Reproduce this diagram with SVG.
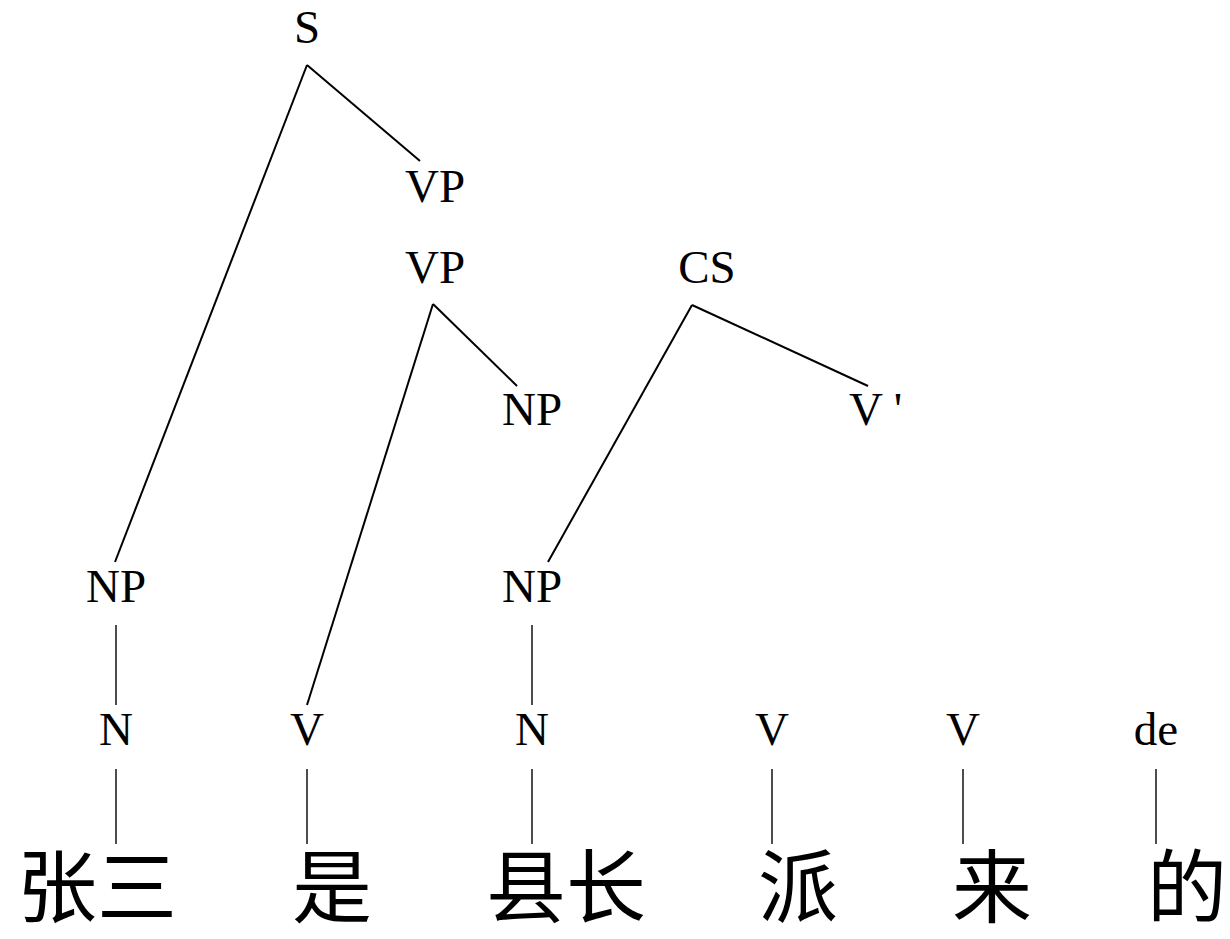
<svg xmlns="http://www.w3.org/2000/svg" width="1230" height="939" viewBox="0 0 1230 939">
<style>
.lbl{font-family:"Liberation Serif","Times New Roman",serif;font-size:47px;fill:#000;text-anchor:middle}
.zh{font-family:"Noto Sans CJK SC",sans-serif;font-size:80px;fill:#000;text-anchor:middle}
.e{stroke:#000;stroke-width:2;fill:none}
.v{stroke:#000;stroke-width:1.4;fill:none}
</style>
<rect width="1230" height="939" fill="#fff"/>
<g id="connectors">
<line class="e" x1="307" y1="65" x2="115" y2="562"/>
<line class="e" x1="307" y1="65" x2="420" y2="161"/>
<line class="e" x1="433" y1="304" x2="307" y2="705"/>
<line class="e" x1="433" y1="304" x2="517" y2="386"/>
<line class="e" x1="692" y1="305" x2="548" y2="562"/>
<line class="e" x1="692" y1="305" x2="868" y2="386"/>
<line class="v" x1="116" y1="625" x2="116" y2="705"/>
<line class="v" x1="532" y1="625" x2="532" y2="705"/>
<line class="v" x1="116" y1="769" x2="116" y2="844"/>
<line class="v" x1="307" y1="769" x2="307" y2="844"/>
<line class="v" x1="532" y1="769" x2="532" y2="844"/>
<line class="v" x1="772" y1="769" x2="772" y2="844"/>
<line class="v" x1="963" y1="769" x2="963" y2="844"/>
<line class="v" x1="1156" y1="769" x2="1156" y2="844"/>
</g>
<g id="n-S"><text class="lbl" x="307" y="43">S</text></g>
<g id="n-VP1"><text class="lbl" x="435" y="202">VP</text></g>
<g id="n-VP2"><text class="lbl" x="435" y="283">VP</text></g>
<g id="n-CS"><text class="lbl" x="707" y="283">CS</text></g>
<g id="n-NP3"><text class="lbl" x="532" y="425">NP</text></g>
<g id="n-Vbar"><text class="lbl" x="849" y="425" style="text-anchor:start">V '</text></g>
<g id="n-NP1"><text class="lbl" x="116" y="602">NP</text></g>
<g id="n-NP2"><text class="lbl" x="532" y="602">NP</text></g>
<g id="n-N1"><text class="lbl" x="116" y="745">N</text></g>
<g id="n-V1"><text class="lbl" x="307" y="745">V</text></g>
<g id="n-N2"><text class="lbl" x="532" y="745">N</text></g>
<g id="n-V2"><text class="lbl" x="772" y="745">V</text></g>
<g id="n-V3"><text class="lbl" x="963" y="745">V</text></g>
<g id="n-de"><text class="lbl" x="1156" y="745">de</text></g>
<g id="w-zhangsan"><text class="zh" x="97" y="916">张三</text></g>
<g id="w-shi"><text class="zh" x="332" y="916">是</text></g>
<g id="w-xianzhang"><text class="zh" x="566" y="916">县长</text></g>
<g id="w-pai"><text class="zh" x="798" y="916">派</text></g>
<g id="w-lai"><text class="zh" x="992" y="916">来</text></g>
<g id="w-de"><text class="zh" x="1187" y="916">的</text></g>
</svg>
